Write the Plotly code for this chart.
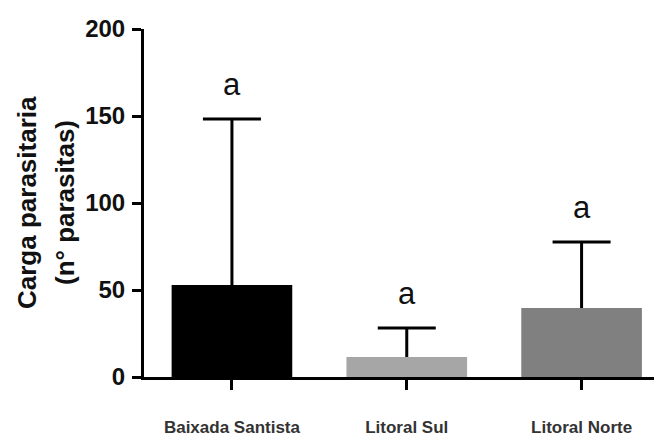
import plotly.graph_objects as go

categories = ["Baixada Santista", "Litoral Sul", "Litoral Norte"]
means = [52.9, 11.5, 39.7]
upper_err = [95.4, 16.7, 37.9]
letters = ["a", "a", "a"]
bar_colors = ["#000000", "#a6a6a6", "#808080"]
y_ticks = [0, 50, 100, 150, 200]
y_title_lines = ["Carga parasitaria", "(n° parasitas)"]

xs = list(range(len(categories)))
FONT = "Liberation Sans, Arial"

fig = go.Figure()
# error bars (drawn first, so the bars hide the part inside them)
fig.add_trace(go.Bar(
    x=xs, y=means, width=0.69,
    marker=dict(color="rgba(0,0,0,0)", line=dict(width=0)),
    error_y=dict(type="data", symmetric=False, array=upper_err, arrayminus=means,
                 color="#000000", thickness=3, width=29),
    hoverinfo="skip",
))
fig.add_trace(go.Bar(
    x=xs, y=means, width=0.69,
    marker=dict(color=bar_colors, line=dict(width=0)),
))

for i, (m, e, t) in enumerate(zip(means, upper_err, letters)):
    fig.add_annotation(x=i, y=m + e + 20, text=t, showarrow=False,
                       xanchor="center", yanchor="middle",
                       font=dict(family=FONT, size=31, color="#111111"))

for shift, line in zip([-117, -79], y_title_lines):
    fig.add_annotation(xref="paper", yref="paper", x=0, y=0.5, xshift=shift,
                       text=line, textangle=-90, showarrow=False,
                       xanchor="center", yanchor="middle",
                       font=dict(family=FONT, size=26, weight="bold", color="#111111"))

fig.update_layout(
    width=662, height=437,
    margin=dict(l=136, r=8, t=21, b=68),
    plot_bgcolor="white", paper_bgcolor="white",
    showlegend=False, barmode="overlay",
    font=dict(family=FONT, color="#111111"),
)
fig.update_xaxes(
    range=[-0.503, 2.46], automargin=False,
    tickmode="array", tickvals=xs, ticktext=categories,
    tickfont=dict(size=17, family=FONT, weight="bold", color="#333333"),
    showline=True, linecolor="#000000", linewidth=3,
    ticks="outside", ticklen=10, tickwidth=3, tickcolor="#000000",
    ticklabelstandoff=23,
    showgrid=False, zeroline=False,
)
fig.update_yaxes(
    range=[0, 200], automargin=False,
    tickmode="array", tickvals=y_ticks,
    tickfont=dict(size=24, family=FONT, weight="bold", color="#111111"),
    showline=True, linecolor="#000000", linewidth=3,
    ticks="outside", ticklen=9, tickwidth=3, tickcolor="#000000",
    ticklabelstandoff=2,
    showgrid=False, zeroline=False,
)

fig.write_html("out.html")
